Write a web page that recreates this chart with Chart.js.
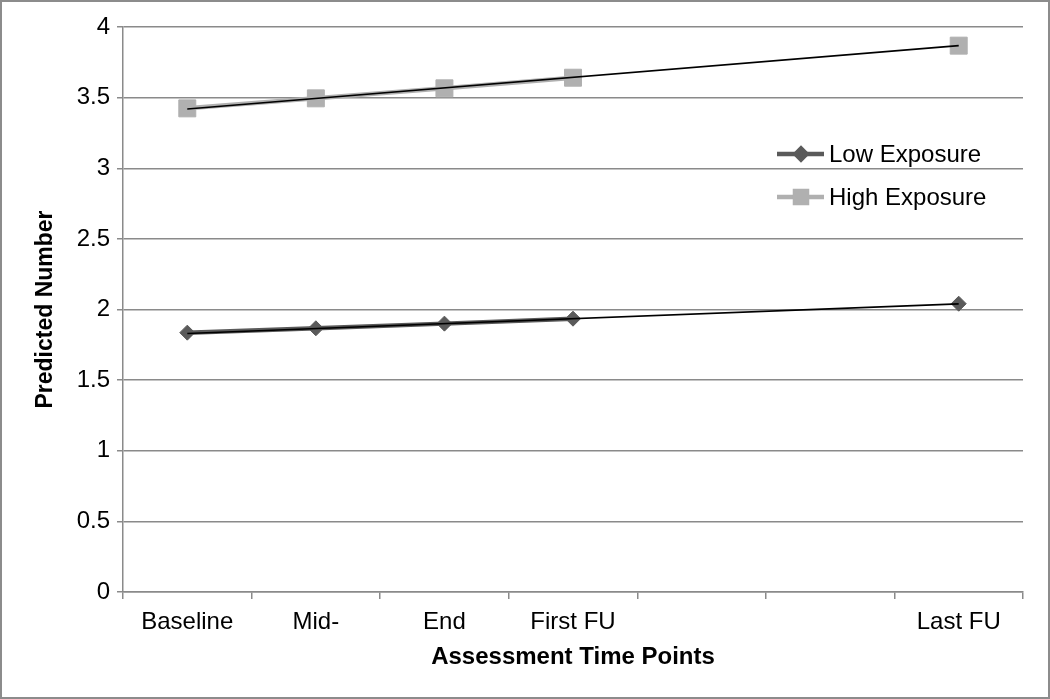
<!DOCTYPE html>
<html><head><meta charset="utf-8">
<script src="https://cdn.jsdelivr.net/npm/chart.js@4.4.1/dist/chart.umd.min.js"></script>
<style>html,body{margin:0;padding:0;background:#fff}#wrap{width:1050px;height:699px}</style>
</head><body><div id="wrap"><canvas id="c" width="1050" height="699"></canvas></div>
<script>
// ---- data ----
const categories = ['Baseline', 'Mid-', 'End', 'First FU', '', '', 'Last FU'];
const lowExposure  = [1.836, 1.867, 1.90, 1.935, null, null, 2.041];
const highExposure = [3.424, 3.495, 3.566, 3.641, null, null, 3.868];
const lowTrend  = [1.83, null, null, null, null, null, 2.04];
const highTrend = [3.42, null, null, null, null, null, 3.868];
const yTickValues = [0, 0.5, 1, 1.5, 2, 2.5, 3, 3.5, 4];
const seriesLabels = ['Low Exposure', 'High Exposure'];
const xTitle = 'Assessment Time Points';
const yTitle = 'Predicted Number';

const FONT = "'Liberation Sans', Arial, sans-serif";
const LOW_C = '#5a5a5a', HIGH_C = '#b0b0b0', GRID_C = '#8a8a8a';

const framePlugin = {
  id: 'frame',
  beforeDraw(chart) {
    const ctx = chart.ctx;
    ctx.save();
    ctx.fillStyle = '#fff';
    ctx.fillRect(0, 0, chart.width, chart.height);
    ctx.strokeStyle = '#8c8c8c';
    ctx.lineWidth = 2;
    ctx.strokeRect(1, 1, chart.width - 2, chart.height - 2);
    ctx.restore();
  }
};

const legendPlugin = {
  id: 'inLegend',
  afterDraw(chart) {
    const ctx = chart.ctx;
    const items = chart.data.datasets.filter(d => d.showInLegend);
    ctx.save();
    items.forEach((d, i) => {
      const y = 154 + i * 43;
      ctx.strokeStyle = d.borderColor;
      ctx.lineWidth = 4.5;
      ctx.beginPath(); ctx.moveTo(777, y); ctx.lineTo(824, y); ctx.stroke();
      ctx.fillStyle = d.pointBackgroundColor;
      ctx.strokeStyle = d.pointBackgroundColor;
      Chart.helpers.drawPoint(ctx, {pointStyle: d.pointStyle, radius: d.legendRadius, rotation: 0, borderWidth: 1}, 801, y);
      ctx.fillStyle = '#000';
      ctx.font = '24px ' + FONT;
      ctx.textBaseline = 'middle';
      ctx.textAlign = 'left';
      ctx.fillText(d.label, 829, y + 1);
    });
    ctx.restore();
  }
};

new Chart(document.getElementById('c'), {
  type: 'line',
  data: {
    labels: categories,
    datasets: [
      { label: 'trendLow', data: lowTrend, borderColor: '#000', borderWidth: 1.6, pointRadius: 0, spanGaps: true, order: 0 },
      { label: 'trendHigh', data: highTrend, borderColor: '#000', borderWidth: 1.6, pointRadius: 0, spanGaps: true, order: 0 },
      { label: seriesLabels[0], data: lowExposure, borderColor: LOW_C, borderWidth: 4.5,
        pointStyle: 'rectRot', pointRadius: 7.5, pointBackgroundColor: LOW_C, pointBorderColor: LOW_C,
        pointBorderWidth: 1, spanGaps: false, order: 1, showInLegend: true, legendRadius: 5.5 },
      { label: seriesLabels[1], data: highExposure, borderColor: HIGH_C, borderWidth: 4.5,
        pointStyle: 'rect', pointRadius: 12, pointBackgroundColor: HIGH_C, pointBorderColor: HIGH_C,
        pointBorderWidth: 1, spanGaps: false, order: 1, showInLegend: true, legendRadius: 8.5 }
    ]
  },
  options: {
    responsive: false,
    devicePixelRatio: 1,
    animation: false,
    layout: { padding: { left: 0, top: 27, right: 27, bottom: 0 } },
    plugins: { legend: { display: false }, tooltip: { enabled: false } },
    scales: {
      x: {
        offset: true,
        grid: { offset: true, drawOnChartArea: false, drawTicks: true, tickLength: 7, color: GRID_C, lineWidth: 1.5 },
        border: { color: GRID_C, width: 1.5 },
        ticks: { color: '#000', font: { family: FONT, size: 24 }, padding: 9, maxRotation: 0, autoSkip: false },
        title: { display: true, text: xTitle, color: '#000', font: { family: FONT, size: 24, weight: 'bold' }, padding: { top: 0, bottom: 27 } },
        afterFit(s) { s.height = 107; }
      },
      y: {
        min: 0, max: 4,
        afterBuildTicks(s) { s.ticks = yTickValues.map(v => ({ value: v })); },
        grid: { color: GRID_C, lineWidth: 1.5, tickLength: 6 },
        border: { color: GRID_C, width: 1.5 },
        ticks: { color: '#000', font: { family: FONT, size: 24 }, padding: 7, callback: v => String(v) },
        title: { display: true, text: yTitle, color: '#000', font: { family: FONT, size: 23, weight: 'bold' }, padding: { top: 32, bottom: 0 } },
        afterFit(s) { s.width = 123; }
      }
    }
  },
  plugins: [framePlugin, legendPlugin]
});
</script>
</body></html>
